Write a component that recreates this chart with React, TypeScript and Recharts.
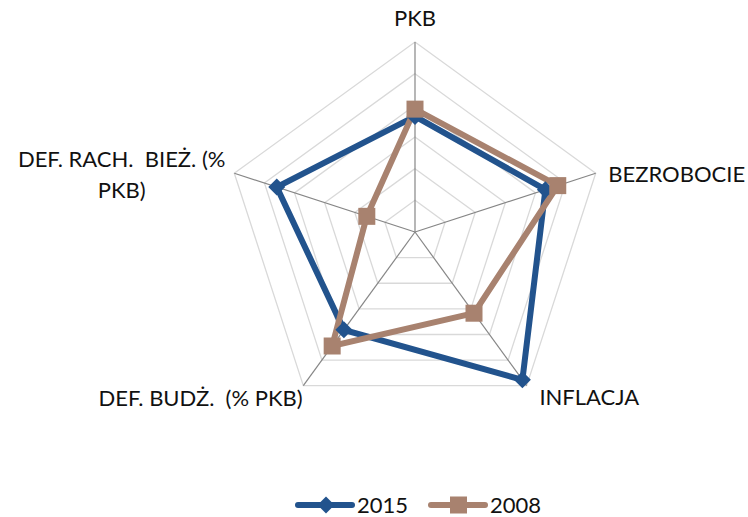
import React from 'react';
import { RadarChart, Radar, PolarGrid, PolarAngleAxis, PolarRadiusAxis, Legend } from 'recharts';

const categories = ['PKB', 'BEZROBOCIE', 'INFLACJA', 'DEF. BUDŻ.  (% PKB)', 'DEF. RACH.  BIEŻ. (%\nPKB)'];
const values2015 = [3.65, 4.33, 5.77, 3.82, 4.59];
const values2008 = [3.88, 4.74, 3.17, 4.45, 1.6];
const seriesOrder = ['2015', '2008'];
const radiusDomain = [0, 6];

const BLUE = '#22538d';
const BROWN = '#a8826f';
const FONT = 'Lato, "Noto Sans", sans-serif';

const data = categories.map((name, i) => ({ name, y2015: values2015[i], y2008: values2008[i] }));

function Diamond({ cx, cy, size, fill }: any) {
  const h = size / 2;
  return <path d={`M${cx},${cy - h}L${cx + h},${cy}L${cx},${cy + h}L${cx - h},${cy}Z`} fill={fill} />;
}

const renderDiamond = (props: any) => (
  <Diamond key={`d-${props.index}`} cx={props.cx} cy={props.cy} size={17} fill={BLUE} />
);

const renderSquare = (props: any) => (
  <rect key={`s-${props.index}`} x={props.cx - 8.5} y={props.cy - 8.5} width={17} height={17} fill={BROWN} />
);

// label placement per spoke, relative to the tick point
const renderTick = (props: any) => {
  const { x, y, payload } = props;
  const idx = payload.index;
  const style = { whiteSpace: 'pre' as const };
  const common = { fontFamily: FONT, fontSize: 22, fill: '#111', style };
  if (idx === 0) return <text x={x} y={y - 8} textAnchor="middle" {...common}>{payload.value}</text>;
  if (idx === 1) return <text x={x + 5} y={y + 11} textAnchor="start" {...common}>{payload.value}</text>;
  if (idx === 2) return <text x={x + 8} y={y + 13} textAnchor="start" {...common}>{payload.value}</text>;
  if (idx === 3) return <text x={x + 4} y={y + 14} textAnchor="end" {...common}>{payload.value}</text>;
  const lines = String(payload.value).split('\n');
  return (
    <text x={x - 105} y={y - 4} textAnchor="middle" {...common}>
      {lines.map((l, i) => (
        <tspan key={i} x={x - 105} dy={i === 0 ? 0 : 31.5}>{l}</tspan>
      ))}
    </text>
  );
};

const renderLegend = (props: any) => {
  const payload = [...props.payload].sort(
    (a: any, b: any) => seriesOrder.indexOf(a.value) - seriesOrder.indexOf(b.value)
  );
  return (
    <div style={{ display: 'flex', paddingLeft: 295, alignItems: 'center', fontFamily: FONT, fontSize: 22, color: '#111' }}>
      {payload.map((entry: any, i: number) => {
        const isBlue = entry.dataKey === 'y2015';
        return (
          <div key={i} style={{ display: 'flex', alignItems: 'center', marginRight: 20 }}>
            <svg width={60} height={20} style={{ marginRight: 2 }}>
              <line x1={3} y1={10} x2={57} y2={10} stroke={entry.color} strokeWidth={6} strokeLinecap="round" />
              {isBlue ? (
                <Diamond cx={31} cy={10} size={17} fill={entry.color} />
              ) : (
                <rect x={22} y={1.5} width={17} height={17} fill={entry.color} />
              )}
            </svg>
            <span>{entry.value}</span>
          </div>
        );
      })}
    </div>
  );
};

export default function App() {
  return (
    <div style={{ position: 'absolute', left: 0, top: 0 }}>
      <RadarChart
        width={748}
        height={517}
        data={data}
        cx={415}
        cy={232}
        outerRadius={190}
        margin={{ top: 0, right: 0, bottom: 0, left: 0 }}
      >
        <PolarGrid gridType="polygon" radialLines={false} stroke="#d9d9d9" strokeWidth={1.3} />
        <PolarGrid gridType="polygon" polarRadius={[]} stroke="#868686" strokeWidth={1.2} />
        <PolarRadiusAxis domain={radiusDomain} tickCount={7} tick={false} axisLine={false} />
        <PolarAngleAxis dataKey="name" tick={renderTick} tickLine={false} axisLine={false} />
        <Radar
          name="2015"
          dataKey="y2015"
          stroke={BLUE}
          strokeWidth={6}
          fill="none"
          fillOpacity={0}
          dot={renderDiamond}
          isAnimationActive={false}
        />
        <Radar
          name="2008"
          dataKey="y2008"
          stroke={BROWN}
          strokeWidth={6}
          fill="none"
          fillOpacity={0}
          dot={renderSquare}
          isAnimationActive={false}
        />
        <Legend content={renderLegend} verticalAlign="bottom" wrapperStyle={{ top: 491, bottom: 'auto', left: 0, width: 748 }} />
      </RadarChart>
    </div>
  );
}
